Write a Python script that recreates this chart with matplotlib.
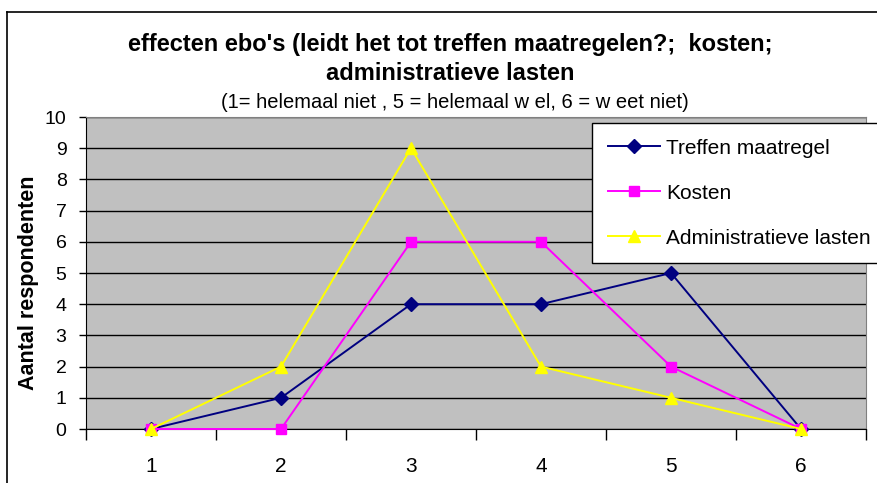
import matplotlib
matplotlib.use("Agg")
import matplotlib.pyplot as plt
from matplotlib.lines import Line2D

# answer categories (1 = helemaal niet, 5 = helemaal wel, 6 = weet niet)
categories = [1, 2, 3, 4, 5, 6]
treffen = [0, 1, 4, 4, 5, 0]
kosten = [0, 0, 6, 6, 2, 0]
admin = [0, 2, 9, 2, 1, 0]

plt.rcParams['font.family'] = ['Liberation Sans', 'DejaVu Sans']

W, H = 877, 483
fig = plt.figure(figsize=(W / 100, H / 100), dpi=100)
ax = fig.add_axes([86 / W, 1 - 429 / H, 780 / W, 312 / H])
ax.set_facecolor('#C0C0C0')

ax.plot(categories, treffen, color='#000080', marker='D', markersize=7,
        lw=1.4, label='Treffen maatregel', zorder=3, clip_on=False)
ax.plot(categories, kosten, color='#FF00FF', marker='s', markersize=7,
        lw=1.4, label='Kosten', zorder=3, clip_on=False)
ax.plot(categories, admin, color='#FFFF00', marker='^', markersize=8.5,
        lw=1.4, label='Administratieve lasten', zorder=3, clip_on=False)

ax.set_xlim(0.5, 6.5)
ax.set_ylim(0, 10)
ax.set_yticks(range(0, 11))
ax.yaxis.grid(True, color='black', lw=1)
ax.set_axisbelow(True)

# category labels centred, ticks on the category boundaries
ax.set_xticks(categories)
ax.set_xticklabels([str(c) for c in categories])
ax.set_xticks([c + 0.5 for c in range(0, 7)], minor=True)
ax.tick_params(axis='x', which='major', length=0, pad=20, labelsize=15)
ax.tick_params(axis='x', which='minor', length=8, width=1, direction='out')
ax.tick_params(axis='y', length=5, width=1, direction='out', labelsize=14, pad=9)

for s in ['top', 'right']:
    ax.spines[s].set_color('#808080')
for s in ['left', 'bottom']:
    ax.spines[s].set_color('black')

ax.set_ylabel('Aantal respondenten', fontsize=15.5, fontweight='bold')
ax.yaxis.set_label_coords(-0.06, 0.47)

fig.text(450 / W, 1 - 44 / H, "effecten ebo's (leidt het tot treffen maatregelen?;  kosten;",
         ha='center', va='center', fontsize=17, fontweight='bold')
fig.text(450 / W, 1 - 73 / H, 'administratieve lasten',
         ha='center', va='center', fontsize=17, fontweight='bold')
fig.text(455 / W, 1 - 102 / H, '(1= helemaal niet , 5 = helemaal w el, 6 = w eet niet)',
         ha='center', va='center', fontsize=14.5)

# outer chart frame (cut off at right and bottom)
fig.add_artist(Line2D([7 / W, 7 / W], [0, 1 - 12 / H], transform=fig.transFigure,
                      color='black', lw=1.2))
fig.add_artist(Line2D([7 / W, 1], [1 - 12 / H, 1 - 12 / H], transform=fig.transFigure,
                      color='black', lw=1.2))

leg = fig.legend(loc='upper left', bbox_to_anchor=(592 / W, 1 - 123 / H),
                 fontsize=15, frameon=True, fancybox=False, shadow=False,
                 framealpha=1, borderpad=0.75, labelspacing=1.25, handlelength=2.5,
                 handletextpad=0.3, borderaxespad=0)
leg.get_frame().set_edgecolor('black')
leg.get_frame().set_linewidth(1)

fig.savefig('out.png', dpi=100)
